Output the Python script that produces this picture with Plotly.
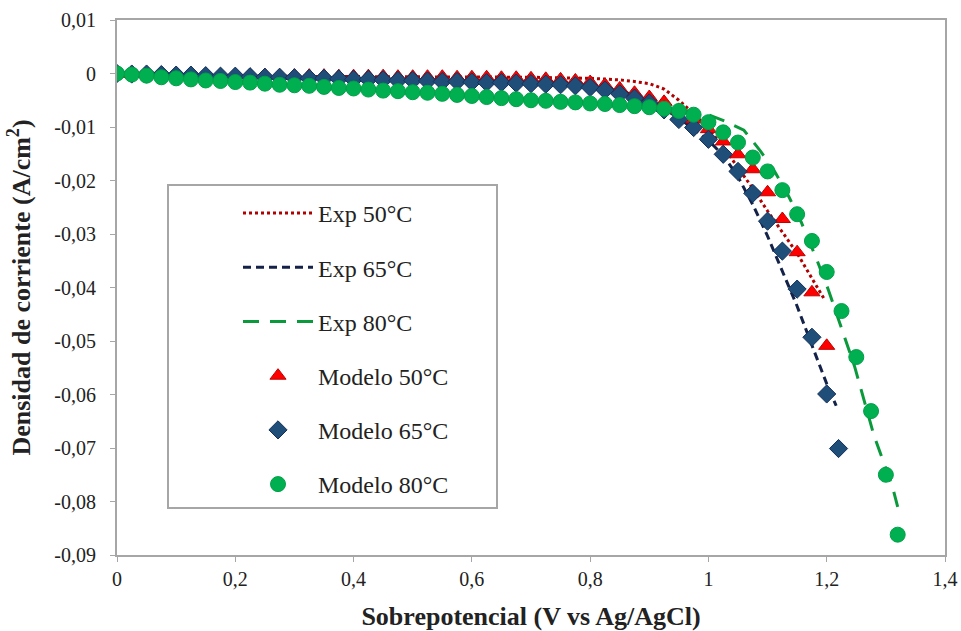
import plotly.graph_objects as go

# ---------------- data ----------------
mod50_x = [0.0, 0.025, 0.05, 0.075, 0.1, 0.125, 0.15, 0.175, 0.2, 0.225, 0.25, 0.275, 0.3, 0.325, 0.35, 0.375,
           0.4, 0.425, 0.45, 0.475, 0.5, 0.525, 0.55, 0.575, 0.6, 0.625, 0.65, 0.675, 0.7, 0.725, 0.75, 0.775,
           0.8, 0.825, 0.85, 0.875, 0.9, 0.925, 0.95, 0.975, 1.0, 1.025, 1.05, 1.075, 1.1, 1.125, 1.15, 1.175, 1.2]
mod50_y = [0.0, -0.0001, -0.0001, -0.0001, -0.0002, -0.0002, -0.0002, -0.0003, -0.0003, -0.0003, -0.0003, -0.0004,
           -0.0004, -0.0004, -0.0004, -0.0005, -0.0005, -0.0005, -0.0005, -0.0006, -0.0006, -0.0006, -0.0006, -0.0007,
           -0.0007, -0.0007, -0.0008, -0.0008, -0.0009, -0.0010, -0.0011, -0.0013, -0.0016, -0.0021, -0.0028, -0.0036,
           -0.0044, -0.0053, -0.0068, -0.0086, -0.0104, -0.0127, -0.0151, -0.0179, -0.0222, -0.0272, -0.0334, -0.0409,
           -0.0509]

mod65_x = [0.0, 0.025, 0.05, 0.075, 0.1, 0.125, 0.15, 0.175, 0.2, 0.225, 0.25, 0.275, 0.3, 0.325, 0.35, 0.375,
           0.4, 0.425, 0.45, 0.475, 0.5, 0.525, 0.55, 0.575, 0.6, 0.625, 0.65, 0.675, 0.7, 0.725, 0.75, 0.775,
           0.8, 0.825, 0.85, 0.875, 0.9, 0.925, 0.95, 0.975, 1.0, 1.025, 1.05, 1.075, 1.1, 1.125, 1.15, 1.175, 1.2,
           1.22]
mod65_y = [0.0, -0.0001, -0.0001, -0.0002, -0.0003, -0.0003, -0.0004, -0.0005, -0.0005, -0.0006, -0.0007, -0.0007,
           -0.0008, -0.0009, -0.0009, -0.0010, -0.0011, -0.0011, -0.0012, -0.0013, -0.0013, -0.0014, -0.0015, -0.0015,
           -0.0016, -0.0017, -0.0017, -0.0018, -0.0019, -0.0020, -0.0021, -0.0023, -0.0026, -0.0031, -0.0038, -0.0046,
           -0.0055, -0.0068, -0.0086, -0.0101, -0.0123, -0.0151, -0.0183, -0.0224, -0.0276, -0.0332, -0.0403, -0.0493,
           -0.0599, -0.0701]

mod80_x = [0.0, 0.025, 0.05, 0.075, 0.1, 0.125, 0.15, 0.175, 0.2, 0.225, 0.25, 0.275, 0.3, 0.325, 0.35, 0.375,
           0.4, 0.425, 0.45, 0.475, 0.5, 0.525, 0.55, 0.575, 0.6, 0.625, 0.65, 0.675, 0.7, 0.725, 0.75, 0.775,
           0.8, 0.825, 0.85, 0.875, 0.9, 0.925, 0.95, 0.975, 1.0, 1.025, 1.05, 1.075, 1.1, 1.125, 1.15, 1.175, 1.2,
           1.225, 1.25, 1.275, 1.3, 1.32]
mod80_y = [0.0, -0.0002, -0.0004, -0.0007, -0.0009, -0.0011, -0.0013, -0.0014, -0.0016, -0.0017, -0.0019, -0.0021,
           -0.0022, -0.0023, -0.0025, -0.0027, -0.0028, -0.0030, -0.0032, -0.0033, -0.0035, -0.0036, -0.0038, -0.0040,
           -0.0042, -0.0044, -0.0046, -0.0048, -0.0050, -0.0051, -0.0053, -0.0054, -0.0056, -0.0057, -0.0059, -0.0061,
           -0.0063, -0.0066, -0.0070, -0.0077, -0.0091, -0.0110, -0.0129, -0.0157, -0.0183, -0.0218, -0.0263, -0.0313,
           -0.0371, -0.0444, -0.0530, -0.0631, -0.0750, -0.0862]

exp50_x = [0.0, 0.2, 0.4, 0.6, 0.7, 0.8, 0.85, 0.875, 0.9, 0.925, 0.95, 0.975, 1.0, 1.025, 1.05, 1.075, 1.1,
           1.125, 1.15, 1.175, 1.196]
exp50_y = [-0.0004, -0.0005, -0.0005, -0.0006, -0.0007, -0.0009, -0.0012, -0.0015, -0.0019, -0.0029, -0.0050,
           -0.0075, -0.0103, -0.0137, -0.0175, -0.0215, -0.0257, -0.0296, -0.0336, -0.0383, -0.0422]

exp65_x = [0.0, 0.2, 0.4, 0.6, 0.7, 0.8, 0.85, 0.9, 0.95, 1.0, 1.025, 1.05, 1.075, 1.1, 1.125, 1.15, 1.175,
           1.2, 1.216]
exp65_y = [-0.0002, -0.0005, -0.0009, -0.0014, -0.0018, -0.0024, -0.0032, -0.0050, -0.0083, -0.0125, -0.0153,
           -0.0193, -0.0245, -0.0304, -0.0370, -0.0435, -0.0508, -0.0580, -0.0621]

exp80_x = [0.0, 0.2, 0.4, 0.6, 0.8, 0.9, 0.95, 1.0, 1.03, 1.06, 1.088, 1.113, 1.135, 1.157, 1.184, 1.203,
           1.225, 1.247, 1.28, 1.296, 1.311, 1.32]
exp80_y = [-0.0002, -0.0015, -0.0028, -0.0042, -0.0055, -0.0062, -0.0067, -0.0077, -0.0090, -0.0106, -0.0145,
           -0.0185, -0.0228, -0.0278, -0.0350, -0.0405, -0.0475, -0.0547, -0.0677, -0.0726, -0.0772, -0.0810]

x_tickvals = [0, 0.2, 0.4, 0.6, 0.8, 1.0, 1.2, 1.4]
x_ticktext = ["0", "0,2", "0,4", "0,6", "0,8", "1", "1,2", "1,4"]
y_tickvals = [0.01, 0, -0.01, -0.02, -0.03, -0.04, -0.05, -0.06, -0.07, -0.08, -0.09]
y_ticktext = ["0,01", "0", "-0,01", "-0,02", "-0,03", "-0,04", "-0,05", "-0,06", "-0,07", "-0,08", "-0,09"]

names = ["Exp 50°C", "Exp 65°C", "Exp 80°C", "Modelo 50°C", "Modelo 65°C", "Modelo 80°C"]

FONT = "'Liberation Serif', 'Times New Roman', 'DejaVu Serif', serif"

fig = go.Figure()
fig.add_trace(go.Scatter(x=exp50_x, y=exp50_y, mode="lines", name=names[0], legendgroup="a",
                         line=dict(color="#b00000", width=3, dash="dot")))
fig.add_trace(go.Scatter(x=exp65_x, y=exp65_y, mode="lines", name=names[1], legendgroup="b",
                         line=dict(color="#14224a", width=3, dash="8px,5px")))
fig.add_trace(go.Scatter(x=exp80_x, y=exp80_y, mode="lines", name=names[2], legendgroup="c",
                         line=dict(color="#0a9a3c", width=3, dash="16px,11px")))
fig.add_trace(go.Scatter(x=mod50_x, y=mod50_y, mode="markers", name=names[3], legendgroup="d",
                         marker=dict(symbol="triangle-up", size=14, color="#ff0000",
                                     line=dict(color="#c00000", width=1))))
fig.add_trace(go.Scatter(x=mod65_x, y=mod65_y, mode="markers", name=names[4], legendgroup="e",
                         marker=dict(symbol="diamond", size=14, color="#1f4e79",
                                     line=dict(color="#14305a", width=1))))
fig.add_trace(go.Scatter(x=mod80_x, y=mod80_y, mode="markers", name=names[5], legendgroup="f",
                         marker=dict(symbol="circle", size=15, color="#00b050",
                                     line=dict(color="#00a048", width=1))))

axis_common = dict(showgrid=False, zeroline=False, showline=True, linecolor="#a6a6a6", linewidth=2,
                   mirror=True, ticks="outside", ticklen=5, tickwidth=1, tickcolor="#a6a6a6",
                   automargin=False,
                   tickfont=dict(family=FONT, size=20, color="#222222"))

fig.update_xaxes(range=[0, 1.4], tickvals=x_tickvals, ticktext=x_ticktext,
                 title=dict(text="<b>Sobrepotencial (V vs Ag/AgCl)</b>", standoff=19,
                            font=dict(family=FONT, size=26, color="#222222")),
                 **axis_common)
fig.update_yaxes(range=[-0.09, 0.01], tickvals=y_tickvals, ticktext=y_ticktext, ticklabelstandoff=10,
                 title=dict(text="<b>Densidad de corriente (A/cm<sup>2</sup>)</b>", standoff=16,
                            font=dict(family=FONT, size=26, color="#222222")),
                 **axis_common)

fig.add_shape(type="rect", xref="paper", yref="paper",
              x0=(168 - 117) / 828, x1=(497 - 117) / 828, y0=(555 - 508) / 535, y1=(555 - 185) / 535,
              line=dict(color="#a6a6a6", width=2), fillcolor="white", layer="below")

fig.update_layout(
    width=961, height=631,
    margin=dict(l=117, r=16, t=20, b=76, autoexpand=False),
    paper_bgcolor="white", plot_bgcolor="white",
    showlegend=True,
    legend=dict(x=(238 - 117) / 828, y=(555 - 191) / 535, xanchor="left", yanchor="top",
                bgcolor="rgba(0,0,0,0)", borderwidth=0, itemwidth=70, tracegroupgap=20,
                font=dict(family=FONT, size=24, color="#222222"), itemsizing="trace"),
)

fig.write_html("out.html", config={"displayModeBar": False},
               post_script="document.body.style.margin='0';document.body.style.padding='0';")
